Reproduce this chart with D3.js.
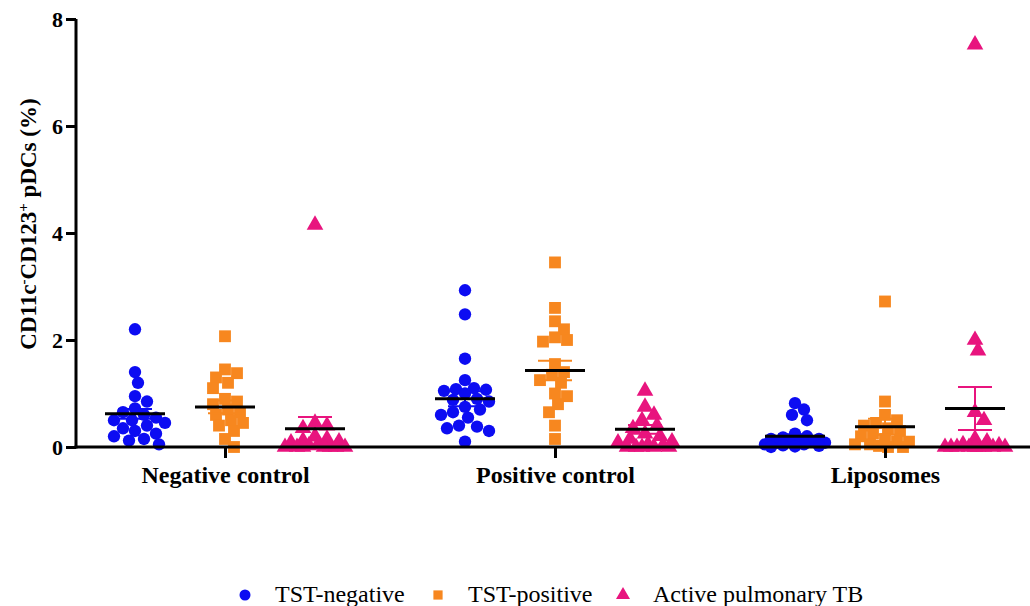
<html><head>
<script src="https://d3js.org/d3.v7.min.js"></script>
<style>
  body { margin: 0; background: white; }
  .tick-lbl { font-family: "Liberation Serif", serif; font-weight: bold; font-size: 22px; }
  .cat-lbl { font-family: "Liberation Serif", serif; font-weight: bold; font-size: 24px; }
  .leg-lbl { font-family: "Liberation Serif", serif; font-size: 24px; }
</style>
</head>
<body>
<svg id="chart" width="1030" height="606"></svg>
<script>
// categories and series
const groups = ["Negative control", "Positive control", "Liposomes"];
const series = ["TST-negative", "TST-positive", "Active pulmonary TB"];
const colors = ["#0c0cf2", "#f7871f", "#e8147e"];
const yTicks = [0, 2, 4, 6, 8];

// individual values, one array per group and series
const negTSTneg = [2.2, 1.4, 1.2, 0.95, 0.85, 0.72, 0.65, 0.6, 0.55, 0.5, 0.5, 0.45, 0.4, 0.35, 0.3, 0.25, 0.2, 0.15, 0.12, 0.05];
const negTSTpos = [2.07, 1.45, 1.38, 1.3, 1.2, 1.1, 0.9, 0.85, 0.8, 0.7, 0.65, 0.6, 0.5, 0.45, 0.4, 0.3, 0.15, 0.0];
const negActive = [4.15, 0.45, 0.4, 0.35, 0.2, 0.15, 0.12, 0.1, 0.08, 0.05, 0.03, 0, 0, 0, 0, 0, 0, 0];

const posTSTneg = [2.93, 2.48, 1.65, 1.25, 1.1, 1.08, 1.07, 1.05, 1.0, 0.9, 0.88, 0.85, 0.75, 0.7, 0.65, 0.6, 0.55, 0.4, 0.38, 0.35, 0.3, 0.1];
const posTSTpos = [3.45, 2.6, 2.35, 2.2, 2.05, 2.0, 1.97, 1.55, 1.4, 1.35, 1.25, 1.2, 1.0, 0.95, 0.8, 0.65, 0.4, 0.15];
const posActive = [1.05, 0.75, 0.6, 0.5, 0.4, 0.35, 0.25, 0.2, 0.15, 0.1, 0.08, 0.05, 0.03, 0, 0, 0, 0, 0];

const lipTSTneg = [0.82, 0.7, 0.6, 0.5, 0.25, 0.2, 0.18, 0.15, 0.15, 0.12, 0.1, 0.1, 0.08, 0.08, 0.05, 0.05, 0.03, 0.02, 0.01, 0];
const lipTSTpos = [2.72, 0.85, 0.6, 0.5, 0.45, 0.4, 0.35, 0.3, 0.25, 0.2, 0.15, 0.1, 0.1, 0.05, 0.05, 0.02, 0, 0];
const lipActive = [7.52, 2.0, 1.8, 0.65, 0.5, 0.15, 0.1, 0.05, 0.03, 0, 0, 0, 0, 0, 0, 0, 0, 0];

// mean and SEM as shown in the figure
const means = [[0.62, 0.75, 0.34], [0.9, 1.43, 0.33], [0.2, 0.38, 0.72]];
const sems = [[0.09, 0.12, 0.22], [0.14, 0.18, 0.08], [0.04, 0.15, 0.4]];

const values = [
  [negTSTneg, negTSTpos, negActive],
  [posTSTneg, posTSTpos, posActive],
  [lipTSTneg, lipTSTpos, lipActive]
];

const svg = d3.select("#chart");
const axisLeft = 76, axisRight = 1030;

const y = d3.scaleLinear().domain([0, 8]).range([447, 19]);
const xGroup = d3.scalePoint().domain(groups).range([225, 885]);
const xSeries = d3.scalePoint().domain(series).range([-90, 90]);

const symbols = [d3.symbolCircle, d3.symbolSquare, d3.symbolTriangle];
const symSizes = [120, 140, 120];

// scatter layout: spread points sideways, but keep them within +-30px
function swarm(vals, cx) {
  const placed = [];
  const sorted = vals.slice().sort((a, b) => b - a);
  const minDist = 11, maxOff = 30, step = 3;
  const offs = [0];
  for (let o = step; o <= maxOff; o += step) { offs.push(o, -o); }
  sorted.forEach(v => {
    const py = y(v);
    let best = null, bestD = -1;
    for (const off of offs) {
      const px = cx + off;
      let dmin = Infinity;
      placed.forEach(p => { dmin = Math.min(dmin, Math.hypot(p.x - px, p.y - py)); });
      if (dmin >= minDist) { best = px; break; }
      if (dmin > bestD) { bestD = dmin; best = px; }
    }
    placed.push({x: best, y: py, v: v});
  });
  return placed;
}

const marks = svg.append("g");
groups.forEach((g, gi) => {
  series.forEach((s, si) => {
    const cx = xGroup(g) + xSeries(s);
    const pts = swarm(values[gi][si], cx);
    marks.selectAll(null).data(pts).join("path")
      .attr("d", d3.symbol().type(symbols[si]).size(symSizes[si]))
      .attr("transform", d => `translate(${d.x},${d.y})`)
      .attr("fill", colors[si]);
  });
});

// mean + SEM
const stats = svg.append("g");
groups.forEach((g, gi) => {
  series.forEach((s, si) => {
    const cx = xGroup(g) + xSeries(s);
    const m = means[gi][si], e = sems[gi][si];
    stats.append("line").attr("x1", cx).attr("x2", cx)
      .attr("y1", y(m + e)).attr("y2", y(Math.max(0, m - e)))
      .attr("stroke", colors[si]).attr("stroke-width", 2);
    [m + e, Math.max(0, m - e)].forEach(v => {
      stats.append("line").attr("x1", cx - 17).attr("x2", cx + 17)
        .attr("y1", y(v)).attr("y2", y(v))
        .attr("stroke", colors[si]).attr("stroke-width", 2);
    });
    stats.append("line").attr("x1", cx - 30).attr("x2", cx + 30)
      .attr("y1", y(m)).attr("y2", y(m))
      .attr("stroke", "black").attr("stroke-width", 3);
  });
});

// y axis
const yAxis = svg.append("g").attr("transform", `translate(${axisLeft},0)`)
  .call(d3.axisLeft(y).tickValues(yTicks).tickSize(10).tickPadding(3));
yAxis.attr("font-family", "Liberation Serif, serif");
yAxis.select(".domain").attr("stroke", "black").attr("stroke-width", 3)
  .attr("d", `M0,${y(8)}V${y(0) + 1.5}`);
yAxis.selectAll(".tick line").attr("stroke-width", 3);
yAxis.selectAll(".tick text").attr("class", "tick-lbl").attr("fill", "black")
  .attr("dy", "0.34em");

// x axis
const xAxis = svg.append("g").attr("transform", `translate(0,${y(0)})`)
  .call(d3.axisBottom(xGroup).tickSize(11).tickPadding(8));
xAxis.attr("font-family", "Liberation Serif, serif");
xAxis.select(".domain").attr("stroke", "black").attr("stroke-width", 3)
  .attr("d", `M${axisLeft - 1.5},0H${axisRight}`);
xAxis.selectAll(".tick line").attr("stroke-width", 3);
xAxis.selectAll(".tick text").attr("class", "cat-lbl").attr("fill", "black");

// y title
const yt = svg.append("text")
  .attr("transform", "translate(36,224) rotate(-90)")
  .attr("text-anchor", "middle")
  .attr("font-family", "Liberation Serif, serif")
  .attr("font-weight", "bold")
  .attr("font-size", "23px");
yt.append("tspan").text("CD11c");
yt.append("tspan").text("-").attr("baseline-shift", "super").attr("font-size", "15px");
yt.append("tspan").text("CD123");
yt.append("tspan").text("+").attr("baseline-shift", "super").attr("font-size", "15px");
yt.append("tspan").text(" pDCs (%)");

// legend
const legX = [245, 438, 623];
const legend = svg.append("g");
series.forEach((s, si) => {
  legend.append("path")
    .attr("d", d3.symbol().type(symbols[si]).size(si === 0 ? 95 : 85))
    .attr("transform", `translate(${legX[si]},595)`)
    .attr("fill", colors[si]);
  legend.append("text").attr("class", "leg-lbl")
    .attr("x", legX[si] + 30).attr("y", 602)
    .text(s);
});
</script>
</body>
</html>
